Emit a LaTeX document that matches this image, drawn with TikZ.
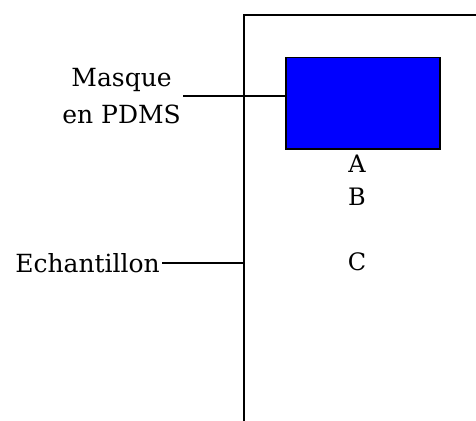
\documentclass[tikz,border=0pt]{standalone}
\usepackage{fontspec}
\setmainfont{DejaVu Serif}
\usetikzlibrary{positioning, calc}

\begin{document}
\begin{tikzpicture}[x=1pt, y=-1pt,
      lbl/.style={font=\fontsize{25}{37}\selectfont, align=center, inner sep=2pt},
      zone/.style={font=\fontsize{24}{28}\selectfont, inner sep=1pt}]
    \clip (0,0) rectangle (476,420);
    \fill[white] (0,0) rectangle (476,420);
    % echantillon (bord gauche et haut)
    \draw[line width=1.8pt] (244,440) -- (244,15) -- (500,15);
    % masque en PDMS
    \node[draw, line width=1.5pt, fill=blue, minimum width=154pt, minimum height=91pt,
          anchor=north west] (mask) at (285,57) {};
    \node[lbl, anchor=east] (masque) at (183,96) {Masque\\en PDMS};
    \draw[line width=1.2pt] (masque.east) -- (masque.east -| mask.west);
    \node[lbl, anchor=east] (ech) at (162,263) {Echantillon};
    \coordinate (bord) at (245,263);
    \draw[line width=1.2pt] (ech) -- (bord);
    % zones
    \node[zone] (A) at (357,164) {A};
    \node[zone] (B) at (357,197) {B};
    \node[zone] (C) at (357,262) {C};
  \end{tikzpicture}
\end{document}
